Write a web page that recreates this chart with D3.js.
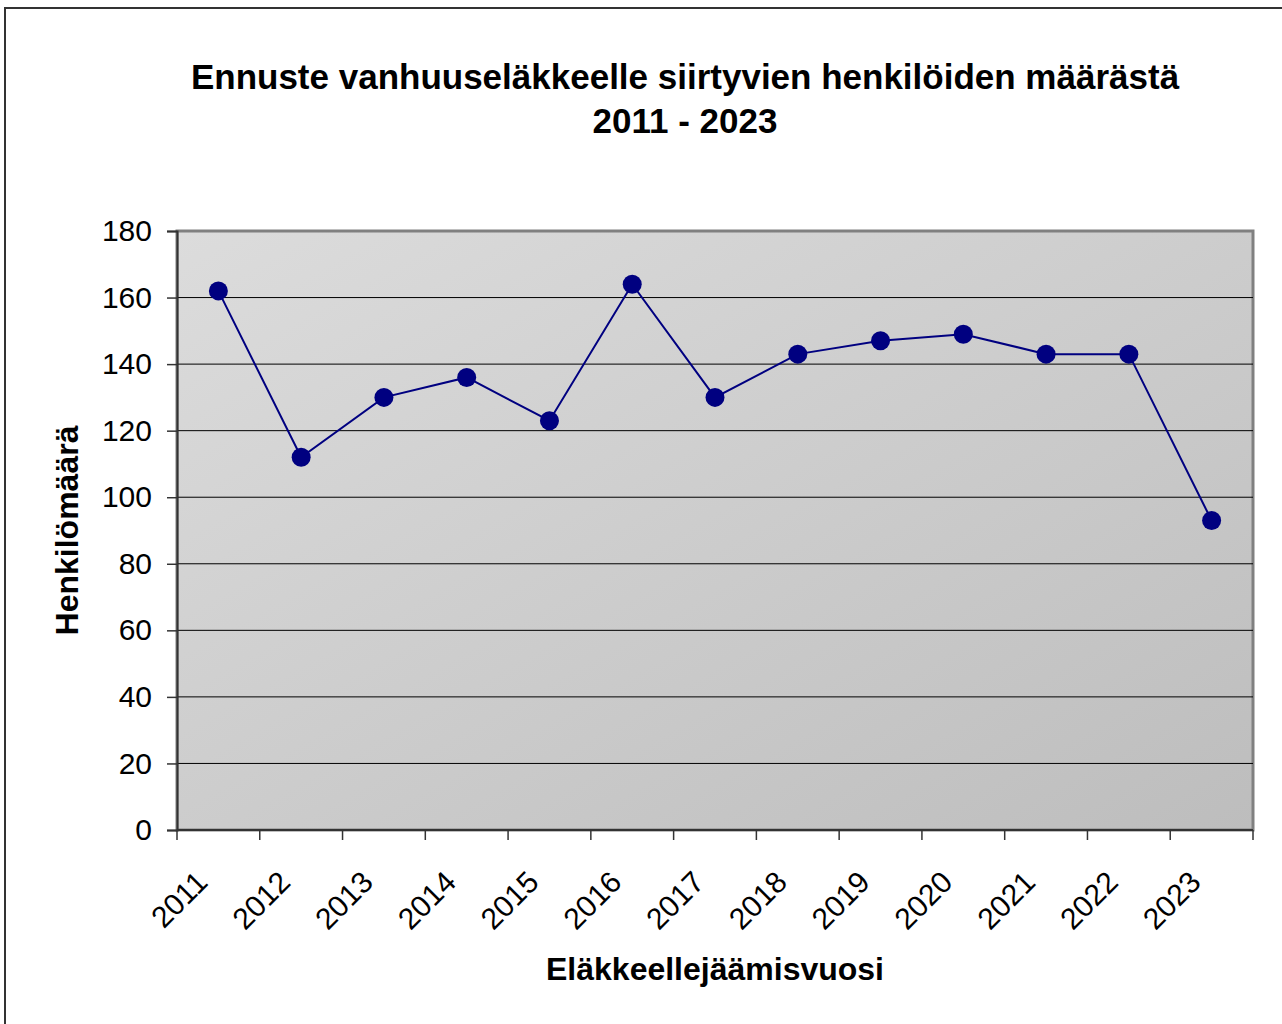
<!DOCTYPE html>
<html>
<head>
<meta charset="utf-8">
<script src="https://cdn.jsdelivr.net/npm/d3@7"></script>
<style>
  body { margin: 0; background: #fff; }
  text { font-family: "Liberation Sans", Arial, sans-serif; }
</style>
</head>
<body>
<svg id="chart" width="1282" height="1024"></svg>
<script>
const years = ["2011", "2012", "2013", "2014", "2015", "2016", "2017", "2018", "2019", "2020", "2021", "2022", "2023"];
const counts = [162, 112, 130, 136, 123, 164, 130, 143, 147, 149, 143, 143, 93];
const yTicks = [0, 20, 40, 60, 80, 100, 120, 140, 160, 180];

const svg = d3.select("#chart");
const margin = {left: 177, right: 1253, top: 231, bottom: 830};

// outer frame
svg.append("rect")
    .attr("x", 5).attr("y", 8)
    .attr("width", 1300).attr("height", 1100)
    .attr("fill", "#fff")
    .attr("stroke", "#333").attr("stroke-width", 2);

// gradient for the plot area
const grad = svg.append("defs").append("linearGradient")
    .attr("id", "bg")
    .attr("x1", "0%").attr("y1", "0%")
    .attr("x2", "100%").attr("y2", "100%");
grad.append("stop").attr("offset", "0%").attr("stop-color", "#dcdcdc");
grad.append("stop").attr("offset", "100%").attr("stop-color", "#bdbdbd");

const x = d3.scaleBand()
    .domain(years)
    .range([margin.left, margin.right]);

const y = d3.scaleLinear()
    .domain([0, 180])
    .range([margin.bottom, margin.top]);

svg.append("rect")
    .attr("x", margin.left).attr("y", margin.top)
    .attr("width", margin.right - margin.left)
    .attr("height", margin.bottom - margin.top)
    .attr("fill", "url(#bg)")
    .attr("stroke", "#808080").attr("stroke-width", 3);

// gridlines
svg.append("g")
    .selectAll("line")
    .data(yTicks.filter(d => d > 0 && d < 180))
    .join("line")
    .attr("x1", margin.left).attr("x2", margin.right)
    .attr("y1", d => y(d)).attr("y2", d => y(d))
    .attr("stroke", "#000").attr("stroke-width", 1);

// y axis
const yAxis = svg.append("g")
    .attr("transform", `translate(${margin.left},0)`)
    .call(d3.axisLeft(y).tickValues(yTicks).tickSize(10).tickPadding(15));
yAxis.select(".domain").attr("stroke", "#333").attr("stroke-width", 2);
yAxis.selectAll(".tick line").attr("stroke", "#333").attr("stroke-width", 1.5);
yAxis.selectAll("text")
    .attr("font-size", 30).attr("fill", "#000")
    .attr("font-family", "Liberation Sans, Arial, sans-serif");

// x axis: ticks between categories
const xAxis = svg.append("g")
    .attr("transform", `translate(0,${margin.bottom})`);
xAxis.append("line")
    .attr("x1", margin.left).attr("x2", margin.right)
    .attr("stroke", "#333").attr("stroke-width", 2);
const edges = years.map(d => x(d)).concat([margin.right]);
xAxis.selectAll(".tk")
    .data(edges)
    .join("line")
    .attr("class", "tk")
    .attr("x1", d => d).attr("x2", d => d)
    .attr("y1", 0).attr("y2", 10)
    .attr("stroke", "#333").attr("stroke-width", 1.5);
xAxis.selectAll(".lbl")
    .data(years)
    .join("text")
    .attr("class", "lbl")
    .attr("text-anchor", "end")
    .attr("font-size", 30)
    .attr("transform", d => `translate(${x(d) + x.bandwidth() / 2 - 9},${54}) rotate(-45)`)
    .text(d => d);

// line + markers
const line = d3.line()
    .x((d, i) => x(years[i]) + x.bandwidth() / 2)
    .y(d => y(d));

svg.append("path")
    .datum(counts)
    .attr("fill", "none")
    .attr("stroke", "#000080")
    .attr("stroke-width", 2)
    .attr("d", line);

svg.append("g")
    .selectAll("circle")
    .data(counts)
    .join("circle")
    .attr("cx", (d, i) => x(years[i]) + x.bandwidth() / 2)
    .attr("cy", d => y(d))
    .attr("r", 9.5)
    .attr("fill", "#000080");

// titles
const title = svg.append("text")
    .attr("text-anchor", "middle")
    .attr("font-size", 35)
    .attr("font-weight", "bold");
title.append("tspan").attr("x", 685).attr("y", 89)
    .text("Ennuste vanhuuseläkkeelle siirtyvien henkilöiden määrästä");
title.append("tspan").attr("x", 685).attr("y", 133)
    .text("2011 - 2023");

svg.append("text")
    .attr("x", (margin.left + margin.right) / 2).attr("y", 980)
    .attr("text-anchor", "middle")
    .attr("font-size", 32).attr("font-weight", "bold")
    .text("Eläkkeellejäämisvuosi");

svg.append("text")
    .attr("transform", `translate(78,${(margin.top + margin.bottom) / 2}) rotate(-90)`)
    .attr("text-anchor", "middle")
    .attr("font-size", 32).attr("font-weight", "bold")
    .text("Henkilömäärä");
</script>
</body>
</html>
